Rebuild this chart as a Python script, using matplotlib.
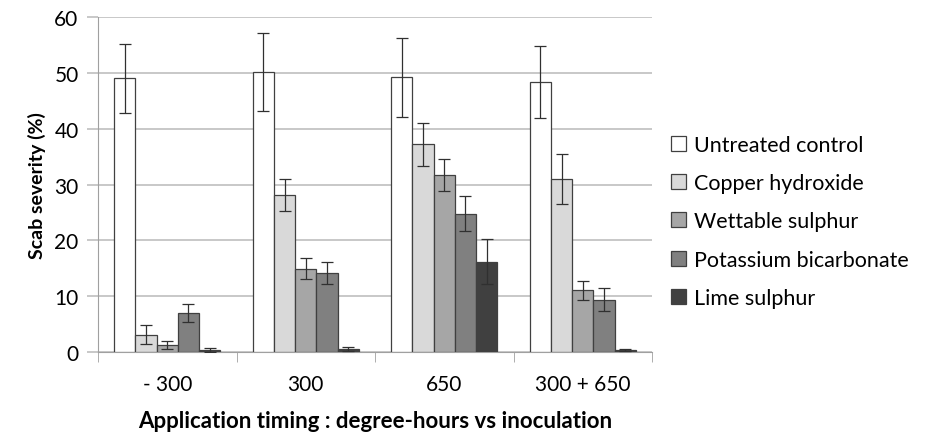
import matplotlib.pyplot as plt
import numpy as np

plt.rcParams['font.family'] = ['Lato', 'DejaVu Sans']

timings = ["- 300", "300", "650", "300 + 650"]
treatments = ["Untreated control", "Copper hydroxide", "Wettable sulphur",
              "Potassium bicarbonate", "Lime sulphur"]

# severity (%) per treatment, one value per timing
untreated = [49.0, 50.1, 49.2, 48.4]
copper = [3.1, 28.1, 37.2, 31.0]
wettable = [1.2, 14.9, 31.7, 11.1]
potassium = [7.0, 14.1, 24.8, 9.4]
lime = [0.4, 0.5, 16.2, 0.4]

# error bar half widths
untreated_err = [6.2, 7.0, 7.1, 6.4]
copper_err = [1.7, 2.9, 3.8, 4.5]
wettable_err = [0.7, 1.9, 2.8, 1.7]
potassium_err = [1.6, 2.0, 3.2, 2.0]
lime_err = [0.4, 0.4, 4.0, 0.2]

values = [untreated, copper, wettable, potassium, lime]
errors = [untreated_err, copper_err, wettable_err, potassium_err, lime_err]
colors = ["#ffffff", "#d9d9d9", "#a6a6a6", "#808080", "#404040"]

fig = plt.figure(figsize=(9.33, 4.35), dpi=100)
ax = fig.add_axes([98/933, 1-353/435, (652-98)/933, (353-18)/435])

x = np.arange(len(timings))
w = 0.153
for i in range(5):
    ax.bar(x + (i-2)*w, values[i], w, color=colors[i], edgecolor="#404040",
           linewidth=0.9, label=treatments[i], zorder=3,
           yerr=errors[i], error_kw=dict(ecolor="#303030", elinewidth=0.9,
                                         capsize=4, capthick=0.9, zorder=4))

ax.set_xlim(-0.5, 3.5)
ax.set_ylim(0, 60)
ax.set_yticks(range(0, 61, 10))
ax.yaxis.grid(True, color="#bfbfbf", linewidth=1.2, zorder=0)
ax.set_xticks(x)
ax.set_xticklabels(timings, fontsize=15)
ax.set_xticks(np.arange(-0.5, 4, 1), minor=True)
ax.tick_params(axis='x', which='major', length=0, pad=16)
ax.tick_params(axis='x', which='minor', length=7, color="#a0a0a0")
ax.tick_params(axis='y', length=8, color="#bfbfbf", width=1.2, labelsize=15, pad=6)

for s in ["top", "right"]:
    ax.spines[s].set_visible(False)
ax.spines["left"].set_color("#a0a0a0")
ax.spines["bottom"].set_color("#a0a0a0")

ax.set_ylabel("Scab severity (%)", fontsize=14, fontweight="bold", labelpad=6)
ax.set_xlabel("Application timing : degree-hours vs inoculation", fontsize=16,
              fontweight="bold", labelpad=11)

ax.legend(loc="center left", bbox_to_anchor=(1.0, 0.39), frameon=False,
          fontsize=15.5, handlelength=0.7, handleheight=0.7, handletextpad=0.35,
          labelspacing=0.85)

fig.savefig("out.png", dpi=100)
